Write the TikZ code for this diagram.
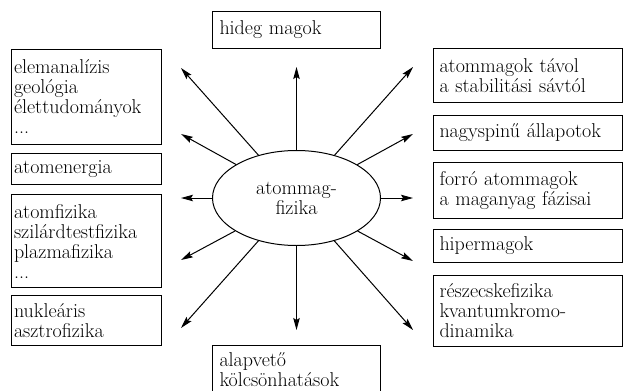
\documentclass[tikz,border=0pt]{standalone}
\usetikzlibrary{shapes.geometric,arrows.meta}
\begin{document}
\begin{tikzpicture}[x=1pt,y=-1pt,
  every node/.style={font=\fontsize{20}{20}\selectfont},
  box/.style={draw, line width=1pt, anchor=north west, align=left, inner ysep=0pt},
  lbox/.style={box, text width=145pt, inner xsep=2.5pt},
  rbox/.style={box, text width=177pt, inner xsep=6pt},
  cbox/.style={box, text width=154pt, inner xsep=7pt},
  arr/.style={-{Stealth[length=12pt,width=6.5pt,inset=2pt]}, line width=1pt}]
\useasboundingbox (0,0) rectangle (624,391);
\node[cbox, minimum height=37] (hm) at (212,11) {hideg magok};
\node[lbox, minimum height=95] (l1) at (11,49) {elemanalízis\\geológia\\élettudományok\\...};
\node[lbox, minimum height=31] (l2) at (11,153) {atomenergia};
\node[lbox, minimum height=93] (l3) at (11,194) {atomfizika\\szilárdtestfizika\\plazmafizika\\...};
\node[lbox, minimum height=50] (l4) at (11,295) {nukleáris\\asztrofizika};
\node[rbox, minimum height=54] (r1) at (433,48) {atommagok távol\\a stabilitási sávtól};
\node[rbox, minimum height=35] (r2) at (433,115) {nagyspinű állapotok};
\node[rbox, minimum height=56] (r3) at (433,162) {forró atommagok\\a maganyag fázisai};
\node[rbox, minimum height=33] (r4) at (433,229) {hipermagok};
\node[rbox, minimum height=71] (r5) at (433,275) {részecskefizika\\kvantumkromo-\\dinamika};
\node[cbox, minimum height=48] (ak) at (212,345) {alapvető\\kölcsönhatások};
\node[draw, ellipse, line width=1pt, minimum width=168, minimum height=95, inner sep=0pt, align=center] (c) at (296.5,198) {atommag-\\fizika};
\coordinate (tu) at (296.5,67);
\coordinate (td) at (296.5,330);
\coordinate (tl1) at (181,68);
\coordinate (tl2) at (181,134);
\coordinate (tl3) at (181,198);
\coordinate (tl4) at (181,260);
\coordinate (tl5) at (181,328);
\coordinate (tr1) at (413,67);
\coordinate (tr2) at (413,134);
\coordinate (tr3) at (413,198);
\coordinate (tr4) at (413,261);
\coordinate (tr5) at (413,330);
\foreach \t in {tu,td,tl1,tl2,tl3,tl4,tl5,tr1,tr2,tr3,tr4,tr5}
  \draw[arr] (c) -- (\t);
\end{tikzpicture}
\end{document}
